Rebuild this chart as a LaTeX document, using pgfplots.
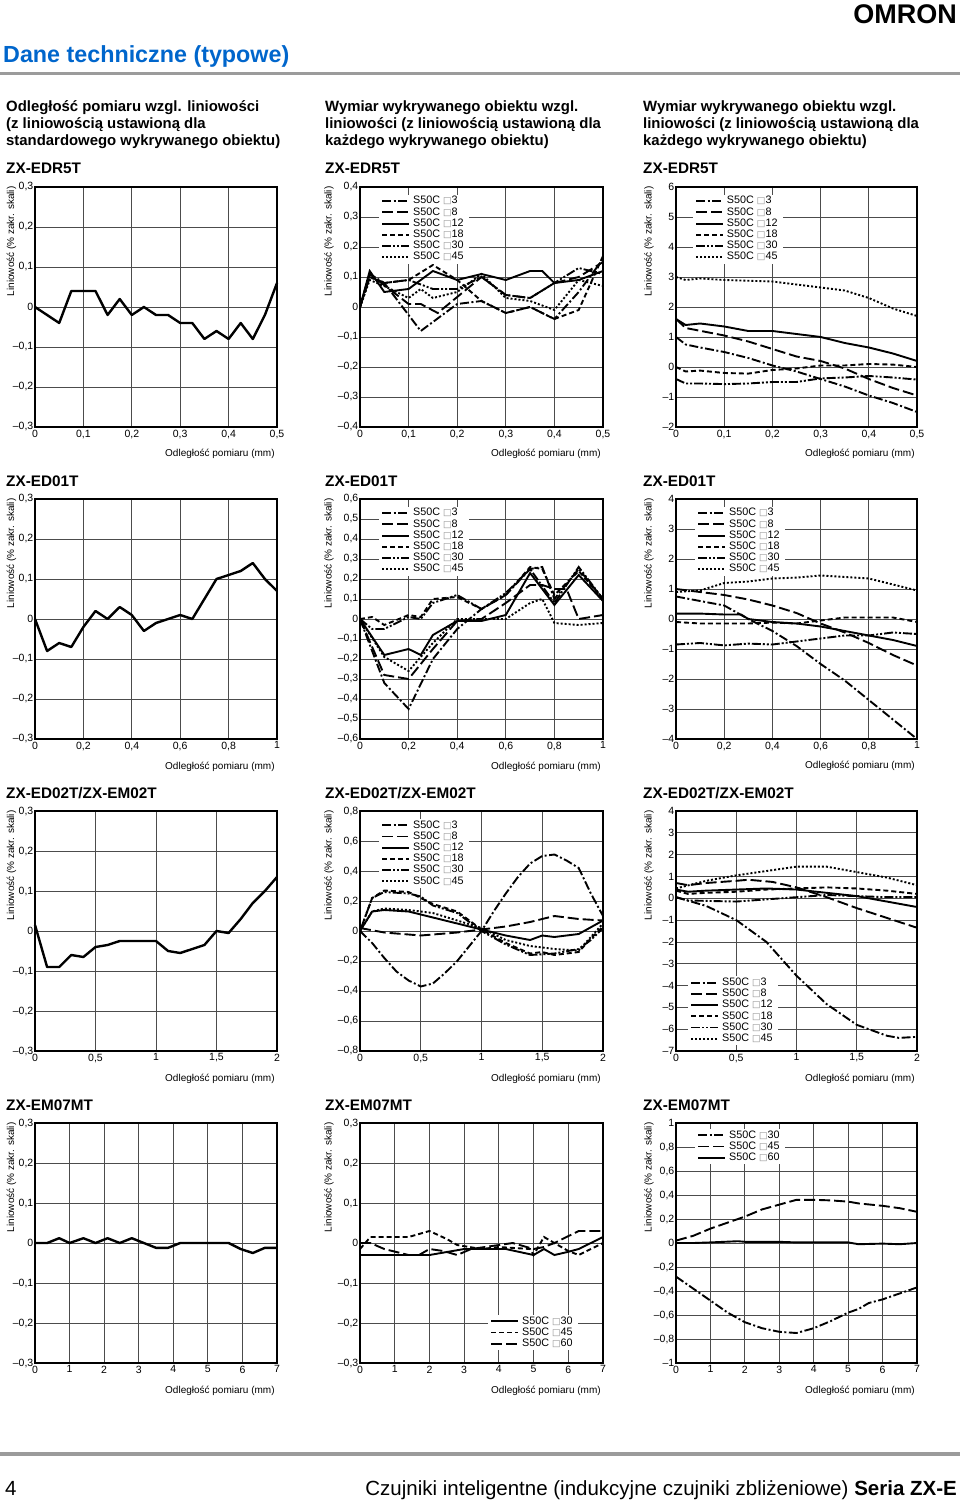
\documentclass[border=0pt]{standalone}
\usepackage{fontspec}
\setmainfont{Liberation Sans}
\newfontfamily\dejavu{DejaVu Sans}
\usepackage{pgfplots}
\pgfplotsset{compat=1.18}
\definecolor{omronblue}{RGB}{0,102,204}
\definecolor{rulegray}{RGB}{155,155,155}
\newcommand\tickfont{\fontsize{10.5}{12}\selectfont}
\newcommand\labfont{\fontsize{9.5}{11}\selectfont}
\newcommand\legfont{\fontsize{10.8}{12}\selectfont}
\newcommand\sq{{\dejavu\fontsize{9}{10}\selectfont\textcolor{black!45}{□}}}
\tikzset{
  s3/.style={black, line width=1.9pt, dash pattern=on 9pt off 2.5pt on 2pt off 2.5pt},
  s8/.style={black, line width=1.9pt, dash pattern=on 11pt off 4pt},
  s12/.style={black, line width=1.9pt},
  s18/.style={black, line width=1.9pt, dash pattern=on 5pt off 3pt},
  s30/.style={black, line width=1.9pt, dash pattern=on 9pt off 2pt on 2pt off 2pt on 2pt off 2pt},
  s45/.style={black, line width=1.9pt, dash pattern=on 2pt off 2pt},
  single/.style={black, line width=2.4pt, line join=round},
}
\pgfplotsset{
  base/.style={scale only axis, height=240pt,
    axis line style={line width=1.2pt},
    grid=major, grid style={line width=0.75pt, black!70},
    major tick length=0pt,
    tick label style={font=\tickfont},
    yticklabel style={inner xsep=1.5pt},
    xticklabel style={inner ysep=2.5pt},
    clip=false, no markers,
    xlabel={Odległość pomiaru (mm)},
    ylabel={Liniowość (\% zakr. skali)},
    label style={font=\labfont},
    every axis x label/.style={at={(axis description cs:1.005,-0.125)}, anchor=base east},
    legend cell align=left,
    legend image code/.code={\draw[##1] (0pt,0pt) -- (27pt,0pt);},
    legend style={draw=none, fill=white, font=\legfont, inner xsep=2pt, inner ysep=1pt,
      row sep=0pt, nodes={inner xsep=3pt, inner ysep=0.35pt, text height=8pt, text depth=2.5pt}},
  },
  c1/.style={base, width=242pt, every axis y label/.style={at={(axis description cs:-0.097,1.017)},anchor=east,rotate=90}},
  c2/.style={base, width=243pt, every axis y label/.style={at={(axis description cs:-0.128,1.017)},anchor=east,rotate=90}},
  c3/.style={base, width=241pt, every axis y label/.style={at={(axis description cs:-0.112,1.017)},anchor=east,rotate=90}},
  x05/.style={xmin=0,xmax=0.5,xtick={0,0.1,0.2,0.3,0.4,0.5},xticklabels={0,{0,1},{0,2},{0,3},{0,4},{0,5}}},
  x1/.style={xmin=0,xmax=1,xtick={0,0.2,0.4,0.6,0.8,1},xticklabels={0,{0,2},{0,4},{0,6},{0,8},1}},
  x2/.style={xmin=0,xmax=2,xtick={0,0.5,1,1.5,2},xticklabels={0,{0,5},1,{1,5},2}},
  x7/.style={xmin=0,xmax=7,xtick={0,1,2,3,4,5,6,7},xticklabels={0,1,2,3,4,5,6,7}},
  y03/.style={ymin=-0.3,ymax=0.3,ytick={-0.3,-0.2,-0.1,0,0.1,0.2,0.3},yticklabels={{–0,3},{–0,2},{–0,1},0,{0,1},{0,2},{0,3}}},
  y04/.style={ymin=-0.4,ymax=0.4,ytick={-0.4,-0.3,-0.2,-0.1,0,0.1,0.2,0.3,0.4},yticklabels={{–0,4},{–0,3},{–0,2},{–0,1},0,{0,1},{0,2},{0,3},{0,4}}},
  y06/.style={ymin=-0.6,ymax=0.6,ytick={-0.6,-0.5,-0.4,-0.3,-0.2,-0.1,0,0.1,0.2,0.3,0.4,0.5,0.6},yticklabels={{–0,6},{–0,5},{–0,4},{–0,3},{–0,2},{–0,1},0,{0,1},{0,2},{0,3},{0,4},{0,5},{0,6}}},
  y08/.style={ymin=-0.8,ymax=0.8,ytick={-0.8,-0.6,-0.4,-0.2,0,0.2,0.4,0.6,0.8},yticklabels={{–0,8},{–0,6},{–0,4},{–0,2},0,{0,2},{0,4},{0,6},{0,8}}},
  y1/.style={ymin=-1,ymax=1,ytick={-1,-0.8,-0.6,-0.4,-0.2,0,0.2,0.4,0.6,0.8,1},yticklabels={–1,{–0,8},{–0,6},{–0,4},{–0,2},0,{0,2},{0,4},{0,6},{0,8},1}},
  y26/.style={ymin=-2,ymax=6,ytick={-2,-1,0,1,2,3,4,5,6},yticklabels={–2,–1,0,1,2,3,4,5,6}},
  y44/.style={ymin=-4,ymax=4,ytick={-4,-3,-2,-1,0,1,2,3,4},yticklabels={–4,–3,–2,–1,0,1,2,3,4}},
  y74/.style={ymin=-7,ymax=4,ytick={-7,-6,-5,-4,-3,-2,-1,0,1,2,3,4},yticklabels={–7,–6,–5,–4,–3,–2,–1,0,1,2,3,4}},
}
\begin{document}
\begin{tikzpicture}
\path[use as bounding box, fill=white] (0pt,0pt) rectangle (960pt,-1503pt);
% header
\node[anchor=base east, inner sep=0, font=\fontsize{27}{30}\selectfont\bfseries] at (957pt,-24pt) {OMRON};
\node[anchor=base west, inner sep=0, font=\fontsize{23.3}{26}\selectfont\bfseries, text=omronblue] at (3pt,-63pt) {Dane techniczne (typowe)};
\fill[rulegray] (0pt,-72pt) rectangle (960pt,-75pt);
\begin{scope}[every node/.style={anchor=base west, inner sep=0, font=\fontsize{14.9}{17}\selectfont\bfseries}]
\node at (6pt,-112pt) {Odległość pomiaru wzgl. liniowości};
\node at (6pt,-129pt) {(z liniowością ustawioną dla};
\node at (6pt,-146pt) {standardowego wykrywanego obiektu)};
\node at (325pt,-112pt) {Wymiar wykrywanego obiektu wzgl.};
\node at (325pt,-129pt) {liniowości (z liniowością ustawioną dla};
\node at (325pt,-146pt) {każdego wykrywanego obiektu)};
\node at (643pt,-112pt) {Wymiar wykrywanego obiektu wzgl.};
\node at (643pt,-129pt) {liniowości (z liniowością ustawioną dla};
\node at (643pt,-146pt) {każdego wykrywanego obiektu)};
\end{scope}
\begin{scope}[every node/.style={anchor=base west, inner sep=0, font=\fontsize{15.3}{17}\selectfont\bfseries}]
\node at (6pt,-174pt) {ZX-EDR5T};
\node at (325pt,-174pt) {ZX-EDR5T};
\node at (643pt,-174pt) {ZX-EDR5T};
\node at (6pt,-486pt) {ZX-ED01T};
\node at (325pt,-486pt) {ZX-ED01T};
\node at (643pt,-486pt) {ZX-ED01T};
\node at (6pt,-798pt) {ZX-ED02T/ZX-EM02T};
\node at (325pt,-798pt) {ZX-ED02T/ZX-EM02T};
\node at (643pt,-798pt) {ZX-ED02T/ZX-EM02T};
\node at (6pt,-1110pt) {ZX-EM07MT};
\node at (325pt,-1110pt) {ZX-EM07MT};
\node at (643pt,-1110pt) {ZX-EM07MT};
\end{scope}
% footer
\fill[rulegray] (0pt,-1452pt) rectangle (960pt,-1456pt);
\node[anchor=base west, inner sep=0, font=\fontsize{20.5}{23}\selectfont] at (5pt,-1495pt) {4};
\node[anchor=base east, inner sep=0, font=\fontsize{20.5}{23}\selectfont] at (957pt,-1495pt) {Czujniki inteligentne (indukcyjne czujniki zbliżeniowe) \textbf{Seria ZX-E}};

% ===== Row 1 =====
\begin{axis}[c1, x05, y03, at={(35pt,-187pt)}, anchor=north west]
\addplot[single] coordinates {(0,0) (0.05,-0.04) (0.075,0.04) (0.1,0.04) (0.125,0.04) (0.15,-0.02) (0.175,0.02) (0.2,-0.02) (0.225,0) (0.25,-0.02) (0.275,-0.02) (0.3,-0.04) (0.325,-0.04) (0.35,-0.08) (0.375,-0.06) (0.4,-0.08) (0.425,-0.04) (0.45,-0.08) (0.475,-0.02) (0.5,0.06)};
\end{axis}

\begin{axis}[c2, x05, y04, at={(360pt,-187pt)}, anchor=north west,
  legend style={at={(axis description cs:0.078,0.969)}, anchor=north west}]
\addplot[s3] coordinates {(0,0) (0.02,0.11) (0.05,0.08) (0.125,-0.08) (0.2,0.01) (0.25,0.02) (0.3,-0.02) (0.35,0.0) (0.4,-0.04) (0.45,0.05) (0.5,0.16)};
\addlegendentry{S50C \sq3}
\addplot[s8] coordinates {(0,0) (0.02,0.11) (0.1,0.01) (0.125,0.01) (0.16,-0.02) (0.25,0.10) (0.3,0.04) (0.35,0.03) (0.4,0.08) (0.45,0.10) (0.5,0.15)};
\addlegendentry{S50C \sq8}
\addplot[s12] coordinates {(0,0) (0.02,0.12) (0.05,0.05) (0.1,0.06) (0.15,0.12) (0.2,0.09) (0.25,0.11) (0.3,0.09) (0.35,0.12) (0.375,0.12) (0.4,0.08) (0.45,0.09) (0.5,0.12)};
\addlegendentry{S50C \sq12}
\addplot[s18] coordinates {(0,0) (0.02,0.10) (0.05,0.08) (0.1,0.09) (0.15,0.14) (0.2,0.09) (0.25,0.02) (0.3,-0.02) (0.35,0.0) (0.4,-0.04) (0.45,-0.01) (0.5,0.17)};
\addlegendentry{S50C \sq18}
\addplot[s30] coordinates {(0,0) (0.02,0.10) (0.05,0.08) (0.1,0.09) (0.15,0.06) (0.2,0.06) (0.25,0.10) (0.3,0.04) (0.35,0.03) (0.4,0.08) (0.45,0.13) (0.5,0.11)};
\addlegendentry{S50C \sq30}
\addplot[s45] coordinates {(0,0) (0.02,0.09) (0.05,0.07) (0.1,0.03) (0.125,0.06) (0.15,0.03) (0.2,0.05) (0.25,0.11) (0.3,0.03) (0.35,0.02) (0.4,-0.01) (0.45,0.09) (0.5,0.07)};
\addlegendentry{S50C \sq45}
\end{axis}

\begin{axis}[c3, x05, y26, at={(676pt,-187pt)}, anchor=north west,
  legend style={at={(axis description cs:0.07,0.969)}, anchor=north west}]
\addplot[s3] coordinates {(0,1.0) (0.02,0.75) (0.05,0.65) (0.1,0.5) (0.15,0.3) (0.2,0.05) (0.25,-0.15) (0.3,-0.4) (0.35,-0.65) (0.4,-0.95) (0.45,-1.2) (0.5,-1.5)};
\addlegendentry{S50C \sq3}
\addplot[s8] coordinates {(0,1.6) (0.02,1.3) (0.1,1.05) (0.15,0.85) (0.2,0.6) (0.25,0.35) (0.3,0.2) (0.35,-0.05) (0.4,-0.4) (0.45,-0.7) (0.5,-0.95)};
\addlegendentry{S50C \sq8}
\addplot[s12] coordinates {(0,1.6) (0.02,1.4) (0.05,1.45) (0.1,1.35) (0.15,1.2) (0.2,1.2) (0.25,1.1) (0.3,1.0) (0.35,0.8) (0.4,0.65) (0.45,0.45) (0.5,0.2)};
\addlegendentry{S50C \sq12}
\addplot[s18] coordinates {(0,0.0) (0.02,-0.15) (0.05,-0.12) (0.1,-0.2) (0.15,-0.22) (0.2,-0.1) (0.25,-0.05) (0.3,0.05) (0.35,0.05) (0.4,0.1) (0.45,0.08) (0.5,0.0)};
\addlegendentry{S50C \sq18}
\addplot[s30] coordinates {(0,-0.4) (0.02,-0.55) (0.05,-0.55) (0.1,-0.57) (0.15,-0.55) (0.2,-0.5) (0.25,-0.5) (0.3,-0.38) (0.35,-0.35) (0.4,-0.3) (0.45,-0.35) (0.5,-0.42)};
\addlegendentry{S50C \sq30}
\addplot[s45] coordinates {(0,3.0) (0.02,2.9) (0.05,2.95) (0.1,2.9) (0.2,2.85) (0.3,2.65) (0.35,2.55) (0.4,2.3) (0.45,1.95) (0.5,1.7)};
\addlegendentry{S50C \sq45}
\end{axis}

% ===== Row 2 =====
\begin{axis}[c1, x1, y03, at={(35pt,-499pt)}, anchor=north west]
\addplot[single] coordinates {(0,0) (0.05,-0.08) (0.1,-0.06) (0.15,-0.07) (0.2,-0.02) (0.25,0.02) (0.3,0) (0.35,0.03) (0.4,0.01) (0.45,-0.03) (0.5,-0.01) (0.55,0.0) (0.6,0.01) (0.65,0) (0.75,0.1) (0.85,0.12) (0.9,0.14) (0.95,0.1) (1.0,0.07)};
\end{axis}

\begin{axis}[c2, x1, y06, at={(360pt,-499pt)}, anchor=north west,
  legend style={at={(axis description cs:0.078,0.969)}, anchor=north west}]
\addplot[s3] coordinates {(0,0) (0.1,-0.32) (0.2,-0.45) (0.3,-0.2) (0.4,-0.05) (0.5,0.05) (0.6,0.12) (0.7,0.25) (0.75,0.26) (0.8,0.1) (0.9,0.25) (1.0,0.1)};
\addlegendentry{S50C \sq3}
\addplot[s8] coordinates {(0,0) (0.1,-0.28) (0.2,-0.3) (0.3,-0.15) (0.4,-0.01) (0.5,0.0) (0.6,0.08) (0.7,0.17) (0.75,0.17) (0.8,0.15) (0.85,0.15) (0.9,0.0) (1.0,0.02)};
\addlegendentry{S50C \sq8}
\addplot[s12] coordinates {(0,0) (0.1,-0.18) (0.2,-0.15) (0.25,-0.18) (0.3,-0.08) (0.4,-0.01) (0.5,-0.01) (0.6,0.02) (0.7,0.23) (0.8,0.07) (0.9,0.22) (1.0,0.09)};
\addlegendentry{S50C \sq12}
\addplot[s18] coordinates {(0,0) (0.05,0.01) (0.1,-0.03) (0.2,0.02) (0.25,0.01) (0.3,0.1) (0.4,0.11) (0.5,0.05) (0.6,0.12) (0.7,0.26) (0.75,0.25) (0.8,0.12) (0.9,0.24) (1.0,0.1)};
\addlegendentry{S50C \sq18}
\addplot[s30] coordinates {(0,0) (0.05,-0.05) (0.1,-0.05) (0.2,0.01) (0.25,0.0) (0.3,0.08) (0.4,0.12) (0.5,0.05) (0.6,0.13) (0.7,0.25) (0.8,0.08) (0.9,0.26) (1.0,0.1)};
\addlegendentry{S50C \sq30}
\addplot[s45] coordinates {(0,0) (0.1,-0.19) (0.2,-0.26) (0.3,-0.12) (0.4,0.0) (0.5,0.0) (0.6,0.0) (0.7,0.08) (0.75,0.1) (0.8,-0.02) (0.9,-0.03) (1.0,-0.02)};
\addlegendentry{S50C \sq45}
\end{axis}

\begin{axis}[c3, x1, y44, at={(676pt,-499pt)}, anchor=north west,
  legend style={at={(axis description cs:0.079,0.969)}, anchor=north west}]
\addplot[s3] coordinates {(0,0.75) (0.1,0.6) (0.2,0.45) (0.3,0.0) (0.4,-0.4) (0.5,-0.9) (0.6,-1.5) (0.7,-2.05) (0.8,-2.7) (0.9,-3.35) (1.0,-4.0)};
\addlegendentry{S50C \sq3}
\addplot[s8] coordinates {(0,1.0) (0.1,0.9) (0.2,0.8) (0.3,0.65) (0.4,0.45) (0.5,0.2) (0.6,-0.15) (0.7,-0.45) (0.8,-0.8) (0.9,-1.2) (1.0,-1.55)};
\addlegendentry{S50C \sq8}
\addplot[s12] coordinates {(0,0.18) (0.1,0.18) (0.2,0.15) (0.27,0.15) (0.3,0.0) (0.4,-0.1) (0.5,-0.15) (0.6,-0.25) (0.7,-0.4) (0.8,-0.55) (0.9,-0.7) (1.0,-0.9)};
\addlegendentry{S50C \sq12}
\addplot[s18] coordinates {(0,-0.1) (0.1,-0.15) (0.2,-0.15) (0.3,-0.15) (0.4,-0.12) (0.5,-0.15) (0.6,-0.05) (0.7,0.05) (0.8,0.05) (0.9,0.05) (1.0,-0.1)};
\addlegendentry{S50C \sq18}
\addplot[s30] coordinates {(0,-0.85) (0.1,-0.8) (0.2,-0.88) (0.3,-0.82) (0.4,-0.85) (0.5,-0.75) (0.6,-0.65) (0.7,-0.55) (0.8,-0.55) (0.9,-0.45) (1.0,-0.5)};
\addlegendentry{S50C \sq30}
\addplot[s45] coordinates {(0,0.9) (0.1,0.95) (0.2,1.2) (0.3,1.25) (0.4,1.35) (0.5,1.38) (0.6,1.45) (0.7,1.4) (0.8,1.35) (0.9,1.15) (1.0,0.95)};
\addlegendentry{S50C \sq45}
\end{axis}

% ===== Row 3 =====
\begin{axis}[c1, x2, y03, at={(35pt,-811pt)}, anchor=north west]
\addplot[single] coordinates {(0,0.015) (0.1,-0.09) (0.2,-0.09) (0.3,-0.06) (0.4,-0.065) (0.5,-0.04) (0.6,-0.035) (0.7,-0.025) (0.8,-0.025) (0.9,-0.025) (1.0,-0.025) (1.1,-0.05) (1.2,-0.055) (1.3,-0.045) (1.4,-0.035) (1.5,0.0) (1.6,-0.005) (1.7,0.03) (1.8,0.07) (1.9,0.1) (2.0,0.135)};
\end{axis}

\begin{axis}[c2, x2, y08, at={(360pt,-811pt)}, anchor=north west,
  legend style={at={(axis description cs:0.078,0.969)}, anchor=north west}]
\addplot[s3] coordinates {(0,0) (0.1,-0.08) (0.2,-0.18) (0.3,-0.27) (0.4,-0.33) (0.5,-0.37) (0.6,-0.35) (0.7,-0.28) (0.8,-0.2) (0.9,-0.1) (1.0,0.0) (1.1,0.13) (1.2,0.25) (1.3,0.36) (1.4,0.45) (1.5,0.5) (1.6,0.51) (1.7,0.47) (1.8,0.42) (1.9,0.25) (2.0,0.1)};
\addlegendentry{S50C \sq3}
\addplot[s8] coordinates {(0,0.02) (0.2,-0.01) (0.5,-0.03) (0.8,-0.01) (1.0,0.01) (1.2,0.03) (1.4,0.06) (1.6,0.1) (1.8,0.08) (2.0,0.07)};
\addlegendentry{S50C \sq8}
\addplot[s12] coordinates {(0,0) (0.1,0.13) (0.2,0.14) (0.4,0.13) (0.6,0.09) (0.8,0.05) (1.0,0.01) (1.2,-0.03) (1.4,-0.06) (1.5,-0.03) (1.6,-0.04) (1.8,-0.02) (2.0,0.07)};
\addlegendentry{S50C \sq12}
\addplot[s18] coordinates {(0,0) (0.1,0.22) (0.2,0.27) (0.4,0.26) (0.5,0.22) (0.6,0.18) (0.8,0.13) (1.0,0.01) (1.2,-0.08) (1.4,-0.15) (1.5,-0.14) (1.6,-0.16) (1.8,-0.14) (1.9,-0.05) (2.0,0.03)};
\addlegendentry{S50C \sq18}
\addplot[s30] coordinates {(0,0) (0.1,0.22) (0.2,0.26) (0.4,0.25) (0.5,0.23) (0.6,0.17) (0.8,0.12) (1.0,0.0) (1.2,-0.09) (1.4,-0.16) (1.6,-0.15) (1.8,-0.12) (1.9,-0.06) (2.0,0.02)};
\addlegendentry{S50C \sq30}
\addplot[s45] coordinates {(0,0) (0.1,0.13) (0.2,0.15) (0.4,0.14) (0.6,0.12) (0.8,0.07) (1.0,0.02) (1.2,-0.06) (1.4,-0.1) (1.6,-0.12) (1.8,-0.13) (2.0,0.05)};
\addlegendentry{S50C \sq45}
\end{axis}

\begin{axis}[c3, x2, y74, at={(676pt,-811pt)}, anchor=north west,
  legend style={at={(axis description cs:0.05,0.023)}, anchor=south west}]
\addplot[s3] coordinates {(0,0.05) (0.25,-0.35) (0.5,-1.0) (0.75,-2.0) (1.0,-3.55) (1.25,-4.85) (1.5,-5.8) (1.75,-6.3) (1.85,-6.4) (2.0,-6.35)};
\addlegendentry{S50C \sq3}
\addplot[s8] coordinates {(0,0.7) (0.1,0.6) (0.25,0.7) (0.5,0.8) (0.6,0.85) (0.8,0.75) (1.0,0.5) (1.25,0.05) (1.5,-0.45) (1.75,-0.9) (2.0,-1.35)};
\addlegendentry{S50C \sq8}
\addplot[s12] coordinates {(0,0.4) (0.1,0.3) (0.25,0.35) (0.5,0.4) (0.75,0.45) (1.0,0.4) (1.25,0.25) (1.5,0.1) (1.75,-0.15) (2.0,-0.4)};
\addlegendentry{S50C \sq12}
\addplot[s18] coordinates {(0,0.35) (0.1,0.2) (0.25,0.25) (0.5,0.3) (0.75,0.4) (1.0,0.45) (1.25,0.5) (1.5,0.45) (1.75,0.35) (2.0,0.2)};
\addlegendentry{S50C \sq18}
\addplot[s30] coordinates {(0,0.05) (0.1,-0.1) (0.5,-0.15) (0.75,-0.05) (1.0,0.05) (1.25,0.15) (1.5,0.1) (1.75,0.05) (2.0,0.05)};
\addlegendentry{S50C \sq30}
\addplot[s45] coordinates {(0,0.45) (0.25,0.8) (0.5,1.05) (0.75,1.25) (1.0,1.45) (1.25,1.45) (1.5,1.2) (1.75,0.95) (2.0,0.6)};
\addlegendentry{S50C \sq45}
\end{axis}

% ===== Row 4 =====
\begin{axis}[c1, x7, y03, at={(35pt,-1123pt)}, anchor=north west]
\addplot[single] coordinates {(0,0) (0.35,0) (0.7,0.012) (1.0,0) (1.4,0.012) (1.75,0) (2.1,0.012) (2.45,0) (2.8,0.012) (3.15,0) (3.5,-0.012) (3.85,-0.012) (4.2,0) (4.55,0) (4.9,0) (5.25,0) (5.6,0) (5.95,-0.015) (6.3,-0.025) (6.65,-0.012) (7.0,-0.012)};
\end{axis}

\begin{axis}[c2, x7, y03, at={(360pt,-1123pt)}, anchor=north west,
  legend style={at={(axis description cs:0.527,0.052)}, anchor=south west}]
\addplot[s12] coordinates {(0,-0.03) (1,-0.03) (2,-0.03) (3,-0.015) (4,-0.015) (4.2,-0.015) (5,-0.03) (5.3,-0.015) (5.6,-0.03) (6,-0.022) (6.3,-0.015) (7,0.015)};
\addlegendentry{S50C \sq30}
\addplot[s18] coordinates {(0,-0.015) (0.3,0.015) (1.4,0.015) (2,0.03) (2.5,0.01) (2.8,-0.005) (3.5,-0.015) (4,-0.01) (4.9,-0.015) (5.0,-0.03) (5.3,0.015) (5.6,0.0) (6,-0.02) (6.3,-0.03) (7,0.0)};
\addlegendentry{S50C \sq45}
\addplot[s8] coordinates {(0,0) (0.3,0.0) (0.7,-0.015) (1.4,-0.03) (1.7,-0.03) (2,-0.015) (2.4,-0.02) (2.8,-0.03) (3.2,-0.015) (4,-0.005) (4.4,0.0) (5,-0.015) (5.3,-0.01) (5.6,0.0) (6.3,0.03) (7,0.03)};
\addlegendentry{S50C \sq60}
\end{axis}

\begin{axis}[c3, x7, y1, at={(676pt,-1123pt)}, anchor=north west,
  legend style={at={(axis description cs:0.079,0.977)}, anchor=north west}]
\addplot[s3] coordinates {(0,-0.28) (0.5,-0.38) (1,-0.48) (1.5,-0.58) (2,-0.66) (2.5,-0.71) (3,-0.74) (3.5,-0.75) (4,-0.71) (4.5,-0.65) (5,-0.58) (5.3,-0.55) (5.6,-0.5) (6,-0.47) (6.5,-0.42) (7,-0.37)};
\addlegendentry{S50C \sq30}
\addplot[s8] coordinates {(0,0.02) (0.5,0.06) (1,0.12) (1.5,0.17) (2,0.22) (2.5,0.28) (3,0.32) (3.5,0.36) (4,0.36) (4.5,0.355) (5,0.345) (5.3,0.33) (6,0.31) (6.5,0.29) (7,0.26)};
\addlegendentry{S50C \sq45}
\addplot[s12] coordinates {(0,0.0) (0.5,0.0) (1,0.005) (1.8,0.015) (2,0.01) (3,0.01) (3.5,0.005) (4,0.005) (5,0.005) (5.3,-0.01) (6,-0.005) (6.5,-0.01) (7,0.0)};
\addlegendentry{S50C \sq60}
\end{axis}
\end{tikzpicture}
\end{document}
